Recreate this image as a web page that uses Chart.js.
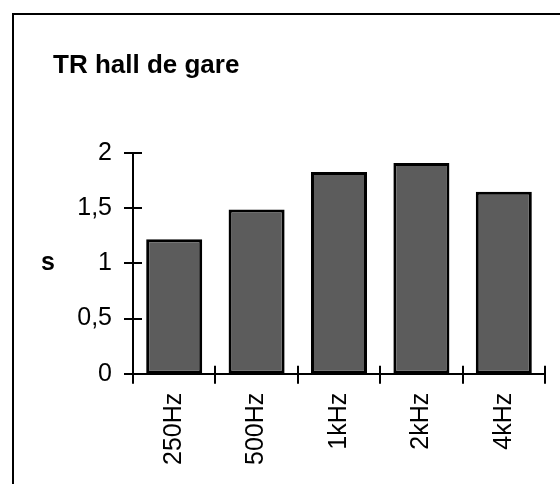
<!DOCTYPE html>
<html>
<head>
<meta charset="utf-8">
<script src="https://cdn.jsdelivr.net/npm/chart.js@4.4.0/dist/chart.umd.min.js"></script>
<style>
  html, body { margin: 0; padding: 0; background: #fff; }
  #wrap { position: relative; width: 560px; height: 484px; overflow: hidden; }
  #frame { position: absolute; left: 12px; top: 13px; width: 600px; height: 600px;
           border-left: 2px solid #000; border-top: 2px solid #000; }
  #chart { position: absolute; left: 0; top: 0; }
</style>
</head>
<body>
<div id="wrap">
  <div id="frame"></div>
  <canvas id="chart" width="560" height="484"></canvas>
</div>
<script>
// data
const bands = ['250Hz', '500Hz', '1kHz', '2kHz', '4kHz'];
const trSeconds = [1.22, 1.49, 1.83, 1.91, 1.65];
const yTicks = [0, 0.5, 1, 1.5, 2];
const chartTitle = 'TR hall de gare';
const yUnit = 's';

const FONT = '"Liberation Sans", Arial, Helvetica, sans-serif';

// crossing tick marks + the unit label "s"
const axisDecor = {
    id: 'axisDecor',
    afterDraw(chart) {
        const c = chart.ctx;
        const x = chart.scales.x;
        const y = chart.scales.y;
        c.save();
        c.strokeStyle = '#000';
        c.lineWidth = 2;
        c.beginPath();
        yTicks.forEach(v => {
            const py = Math.round(y.getPixelForValue(v));
            c.moveTo(x.left - 9, py);
            c.lineTo(x.left + 9, py);
        });
        const step = (x.right - x.left) / bands.length;
        for (let i = 0; i <= bands.length; i++) {
            const px = Math.round(x.left + i * step);
            c.moveTo(px, y.bottom - 8);
            c.lineTo(px, y.bottom + 10);
        }
        c.stroke();

        c.fillStyle = '#000';
        c.font = 'bold 25px ' + FONT;
        c.textAlign = 'center';
        c.textBaseline = 'middle';
        c.fillText(yUnit, 48, y.getPixelForValue(1));
        c.restore();
    }
};

const ctx = document.getElementById('chart');
new Chart(ctx, {
    type: 'bar',
    data: {
        labels: bands,
        datasets: [{
            data: trSeconds,
            backgroundColor: '#5c5c5c',
            borderColor: '#000',
            borderWidth: 3,
            borderSkipped: false,
            barPercentage: 0.68,
            categoryPercentage: 1
        }]
    },
    options: {
        responsive: false,
        animation: false,
        layout: { padding: { top: 50, left: 53, right: 15, bottom: 0 } },
        plugins: {
            legend: { display: false },
            tooltip: { enabled: false },
            title: {
                display: true,
                text: chartTitle,
                align: 'start',
                color: '#000',
                font: { family: FONT, size: 26, weight: 'bold' },
                padding: { top: 0, bottom: 72 }
            }
        },
        scales: {
            x: {
                grid: { display: false, drawTicks: false },
                border: { display: true, color: '#000', width: 2 },
                ticks: {
                    color: '#000',
                    font: { family: FONT, size: 25 },
                    minRotation: 90,
                    maxRotation: 90,
                    padding: 19
                }
            },
            y: {
                min: 0,
                max: 2,
                afterFit(scale) { scale.width = 80; },
                afterBuildTicks(scale) { scale.ticks = yTicks.map(v => ({ value: v })); },
                grid: { display: false, drawTicks: false },
                border: { display: true, color: '#000', width: 2 },
                ticks: {
                    color: '#000',
                    font: { family: FONT, size: 25 },
                    padding: 21,
                    callback: v => String(v).replace('.', ',')
                }
            }
        }
    },
    plugins: [axisDecor]
});
</script>
</body>
</html>
